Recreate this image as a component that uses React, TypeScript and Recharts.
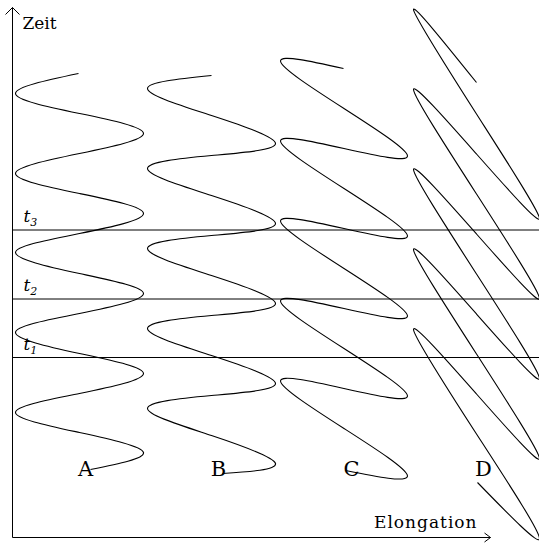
import React from 'react';
import { LineChart, Line, XAxis, YAxis, ReferenceLine, ReferenceDot } from 'recharts';

type Pt = { e: number; z: number };

// Elongation (e) vs. Zeit (z) for the four oscillating points
const curveA: Pt[] = [
  { e: 66, z: 464 }, { e: 3, z: 444 }, { e: 67, z: 424 }, { e: 131, z: 404 },
  { e: 67, z: 384 }, { e: 3, z: 364 }, { e: 67, z: 344 }, { e: 131, z: 324 },
  { e: 67, z: 304 }, { e: 3, z: 285 }, { e: 67, z: 264 }, { e: 131, z: 244 },
  { e: 67, z: 224 }, { e: 3, z: 205 }, { e: 67, z: 184 }, { e: 131, z: 164 },
  { e: 67, z: 144 }, { e: 3, z: 125 }, { e: 67, z: 105 }, { e: 131, z: 85 },
  { e: 78, z: 68 },
];

const curveB: Pt[] = [
  { e: 199, z: 462 }, { e: 135, z: 449 }, { e: 199, z: 422 }, { e: 263, z: 394 },
  { e: 199, z: 382 }, { e: 135, z: 369 }, { e: 199, z: 342 }, { e: 263, z: 314 },
  { e: 199, z: 302 }, { e: 135, z: 289 }, { e: 199, z: 262 }, { e: 263, z: 234 },
  { e: 199, z: 222 }, { e: 135, z: 209 }, { e: 199, z: 182 }, { e: 263, z: 154 },
  { e: 199, z: 142 }, { e: 135, z: 129 }, { e: 199, z: 102 }, { e: 263, z: 74 },
  { e: 210, z: 64 },
];

const curveC: Pt[] = [
  { e: 331, z: 469 }, { e: 268, z: 476.5 }, { e: 331.5, z: 429 }, { e: 395, z: 381.5 },
  { e: 331.5, z: 389 }, { e: 268, z: 396.5 }, { e: 331.5, z: 349 }, { e: 395, z: 301.5 },
  { e: 331.5, z: 309 }, { e: 268, z: 316.5 }, { e: 331.5, z: 269 }, { e: 395, z: 221.5 },
  { e: 331.5, z: 229 }, { e: 268, z: 236.5 }, { e: 331.5, z: 189 }, { e: 395, z: 141.5 },
  { e: 331.5, z: 149 }, { e: 268, z: 156.5 }, { e: 331.5, z: 109 }, { e: 395, z: 61.5 },
  { e: 333, z: 67 },
];

const curveD: Pt[] = [
  { e: 464, z: 455 }, { e: 401, z: 528 }, { e: 464, z: 423.5 }, { e: 527, z: 319 },
  { e: 464, z: 383.5 }, { e: 401, z: 448 }, { e: 464, z: 343.5 }, { e: 527, z: 239 },
  { e: 464, z: 303.5 }, { e: 401, z: 368 }, { e: 464, z: 263.5 }, { e: 527, z: 159 },
  { e: 464, z: 223.5 }, { e: 401, z: 288 }, { e: 464, z: 183.5 }, { e: 527, z: 79 },
  { e: 464, z: 143.5 }, { e: 401, z: 208 }, { e: 464, z: 103.5 }, { e: 527, z: -1 },
  { e: 465, z: 55 },
];

const curves = [curveA, curveB, curveC, curveD];
const curveNames = ['A', 'B', 'C', 'D'];
const curveLabelE = [73, 206, 339, 471];
const curveLabelZ = 62;

const timeMarkNames = ['1', '2', '3'];
const timeMarkZ = [180, 238.5, 307.5];

const eMax = 478; // end of elongation axis
const zMax = 530; // end of time axis
const eRight = 526.5;

const FONT = 'DejaVu Serif';

const W = 539;
const H = 543;

const dotLabel = (render: (x: number, y: number) => React.ReactElement) => (p: any) => {
  const vb = p.viewBox || {};
  return render(vb.x, vb.y);
};

export default function App() {
  return (
    <div style={{ position: 'absolute', left: 0, top: 0, background: '#fff' }}>
      <LineChart width={W} height={H} margin={{ top: 0, right: 0, bottom: 0, left: 0 }}>
        <XAxis type="number" dataKey="e" domain={[-12.5, 526.5]} hide allowDataOverflow />
        <YAxis type="number" dataKey="z" domain={[-5.5, 537.5]} hide allowDataOverflow />

        {timeMarkZ.map((z, i) => (
          <ReferenceLine
            key={'t' + i}
            segment={[{ x: 0, y: z }, { x: eRight, y: z }]}
            stroke="#000"
            strokeWidth={1}
            ifOverflow="visible"
          />
        ))}

        {curves.map((c, i) => (
          <Line
            key={curveNames[i]}
            data={c}
            dataKey="z"
            type="natural"
            dot={false}
            activeDot={false}
            stroke="#000"
            strokeWidth={1.1}
            isAnimationActive={false}
          />
        ))}

        {/* axes */}
        <ReferenceLine segment={[{ x: 0, y: 0 }, { x: 0, y: zMax }]} stroke="#000" strokeWidth={1} ifOverflow="visible" />
        <ReferenceLine segment={[{ x: 0, y: zMax }, { x: -7, y: zMax - 7 }]} stroke="#000" strokeWidth={1} ifOverflow="visible" />
        <ReferenceLine segment={[{ x: 0, y: zMax }, { x: 7, y: zMax - 7 }]} stroke="#000" strokeWidth={1} ifOverflow="visible" />
        <ReferenceLine segment={[{ x: 0, y: 0 }, { x: eMax, y: 0 }]} stroke="#000" strokeWidth={1} ifOverflow="visible" />
        <ReferenceLine segment={[{ x: eMax, y: 0 }, { x: eMax - 6, y: 4.5 }]} stroke="#000" strokeWidth={1} ifOverflow="visible" />
        <ReferenceLine segment={[{ x: eMax, y: 0 }, { x: eMax - 6, y: -4.5 }]} stroke="#000" strokeWidth={1} ifOverflow="visible" />

        {/* axis titles */}
        <ReferenceDot
          x={0}
          y={zMax}
          r={0}
          fill="none"
          stroke="none"
          ifOverflow="visible"
          label={dotLabel((x, y) => (
            <text x={x + 10} y={y + 21} fontFamily={FONT} style={{ fontFamily: FONT }} fontSize={17} fill="#000">
              Zeit
            </text>
          ))}
        />
        <ReferenceDot
          x={eMax}
          y={0}
          r={0}
          fill="none"
          stroke="none"
          ifOverflow="visible"
          label={dotLabel((x, y) => (
            <text x={x - 13} y={y - 10} textAnchor="end" fontFamily={FONT} style={{ fontFamily: FONT, letterSpacing: 1 }} fontSize={17} fill="#000">
              Elongation
            </text>
          ))}
        />

        {/* time marks t1..t3 */}
        {timeMarkZ.map((z, i) => (
          <ReferenceDot
            key={'tl' + i}
            x={0}
            y={z}
            r={0}
            fill="none"
            stroke="none"
            ifOverflow="visible"
            label={dotLabel((x, y) => (
              <text x={x + 11} y={y - 8} fontFamily={FONT} style={{ fontFamily: FONT, fontStyle: 'italic' }} fontSize={17} fill="#000">
                <tspan>t</tspan>
                <tspan dy={4} fontSize={11}>{timeMarkNames[i]}</tspan>
              </text>
            ))}
          />
        ))}

        {/* point labels */}
        {curveNames.map((n, i) => (
          <ReferenceDot
            key={'lbl' + n}
            x={curveLabelE[i]}
            y={curveLabelZ}
            r={0}
            fill="none"
            stroke="none"
            label={dotLabel((x, y) => (
              <text x={x} y={y} textAnchor="middle" fontFamily={FONT} style={{ fontFamily: FONT }} fontSize={21} fill="#000">
                {n}
              </text>
            ))}
          />
        ))}
      </LineChart>
    </div>
  );
}
